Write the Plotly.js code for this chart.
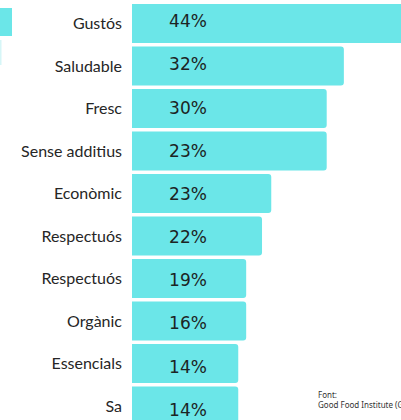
<!DOCTYPE html>
<html>
<head>
<meta charset="utf-8">
<script src="https://cdn.plot.ly/plotly-3.0.1.min.js"></script>
<style>
  html, body { margin: 0; padding: 0; background: #fff; overflow: hidden; }
  #chart { width: 401px; height: 420px; }
</style>
</head>
<body>
<div id="chart"></div>
<script>
// Category keys (top to bottom) and the tick labels shown for them
const categories = ["Gustós", "Saludable", "Fresc", "Sense additius", "Econòmic",
                    "Respectuós (1)", "Respectuós (2)", "Orgànic", "Essencials", "Sa"];
const tickLabels = ["Gustós", "Saludable", "Fresc", "Sense additius", "Econòmic",
                    "Respectuós", "Respectuós", "Orgànic", "Essencials", "Sa"];
// Bar lengths
const barValues = [44, 32.1, 29.5, 29.5, 21.1, 19.7, 17.3, 17.3, 16.1, 16.1];
// Printed labels
const valueLabels = ["44%", "32%", "30%", "23%", "23%", "22%", "19%", "16%", "14%", "14%"];
const sourceText = "Font:<br>Good Food Institute (GFI)";

const W = 401, H = 420, L = 132;
const pxPerUnit = 6.6;
const xMax = (W - L) / pxPerUnit;
const labelX = (188 - L) / pxPerUnit;

// bar category axis: pitch 42.5px, first centre at 23.5px
const p1 = 42.5, c1 = 23.5;
const top1 = -c1 / p1, bot1 = top1 + H / p1;
// label axis: pitch 43.17px, first centre at 23px
const p2 = 43.17, c2 = 23;
const top2 = -c2 / p2, bot2 = top2 + H / p2;

const bars = {
  type: "bar",
  orientation: "h",
  x: barValues,
  y: categories,
  marker: { color: "#6be6e8", line: { width: 0 } },
  hoverinfo: "skip",
  showlegend: false
};

const labels = {
  type: "scatter",
  mode: "text",
  x: valueLabels.map(() => labelX),
  y: categories,
  yaxis: "y2",
  text: valueLabels,
  textposition: "middle center",
  textfont: { family: "DejaVu Sans", size: 17, color: "#1c2424" },
  hoverinfo: "skip",
  showlegend: false,
  cliponaxis: false
};

const layout = {
  width: W, height: H,
  margin: { l: L, r: 0, t: 0, b: 0, pad: 0 },
  paper_bgcolor: "#ffffff",
  plot_bgcolor: "#ffffff",
  bargap: 0.082,
  barcornerradius: 3,
  showlegend: false,
  xaxis: {
    range: [0, xMax],
    showgrid: false, zeroline: false, showticklabels: false,
    showline: false, ticks: "", fixedrange: true
  },
  yaxis: {
    type: "category",
    categoryorder: "array",
    categoryarray: categories,
    tickmode: "array",
    tickvals: categories,
    ticktext: tickLabels,
    range: [bot1, top1],
    showgrid: false, zeroline: false, showline: false,
    ticks: "",
    ticklabelstandoff: 9,
    tickfont: { family: "Lato", size: 16, color: "#262626" },
    fixedrange: true
  },
  yaxis2: {
    type: "category",
    categoryorder: "array",
    categoryarray: categories,
    overlaying: "y",
    range: [bot2, top2],
    showgrid: false, zeroline: false, showline: false,
    showticklabels: false, ticks: "",
    fixedrange: true
  },
  shapes: [
    { type: "rect", xref: "paper", yref: "paper",
      x0: (0 - L) / (W - L), x1: (12 - L) / (W - L),
      y0: 1 - 36 / H, y1: 1 - 8 / H,
      fillcolor: "#6be6e8", line: { width: 0 } },
    { type: "rect", xref: "paper", yref: "paper",
      x0: (0 - L) / (W - L), x1: (1.5 - L) / (W - L),
      y0: 1 - 65 / H, y1: 1 - 40 / H,
      fillcolor: "#d6f6f7", line: { width: 0 } }
  ],
  annotations: [
    { xref: "paper", yref: "paper",
      x: (316 - L) / (W - L), y: 1 - 387 / H,
      xanchor: "left", yanchor: "top", align: "left",
      showarrow: false, text: sourceText,
      font: { family: "Noto Sans", size: 8, color: "#333333" } }
  ]
};

Plotly.newPlot("chart", [bars, labels], layout, { displayModeBar: false, staticPlot: true });
</script>
</body>
</html>
